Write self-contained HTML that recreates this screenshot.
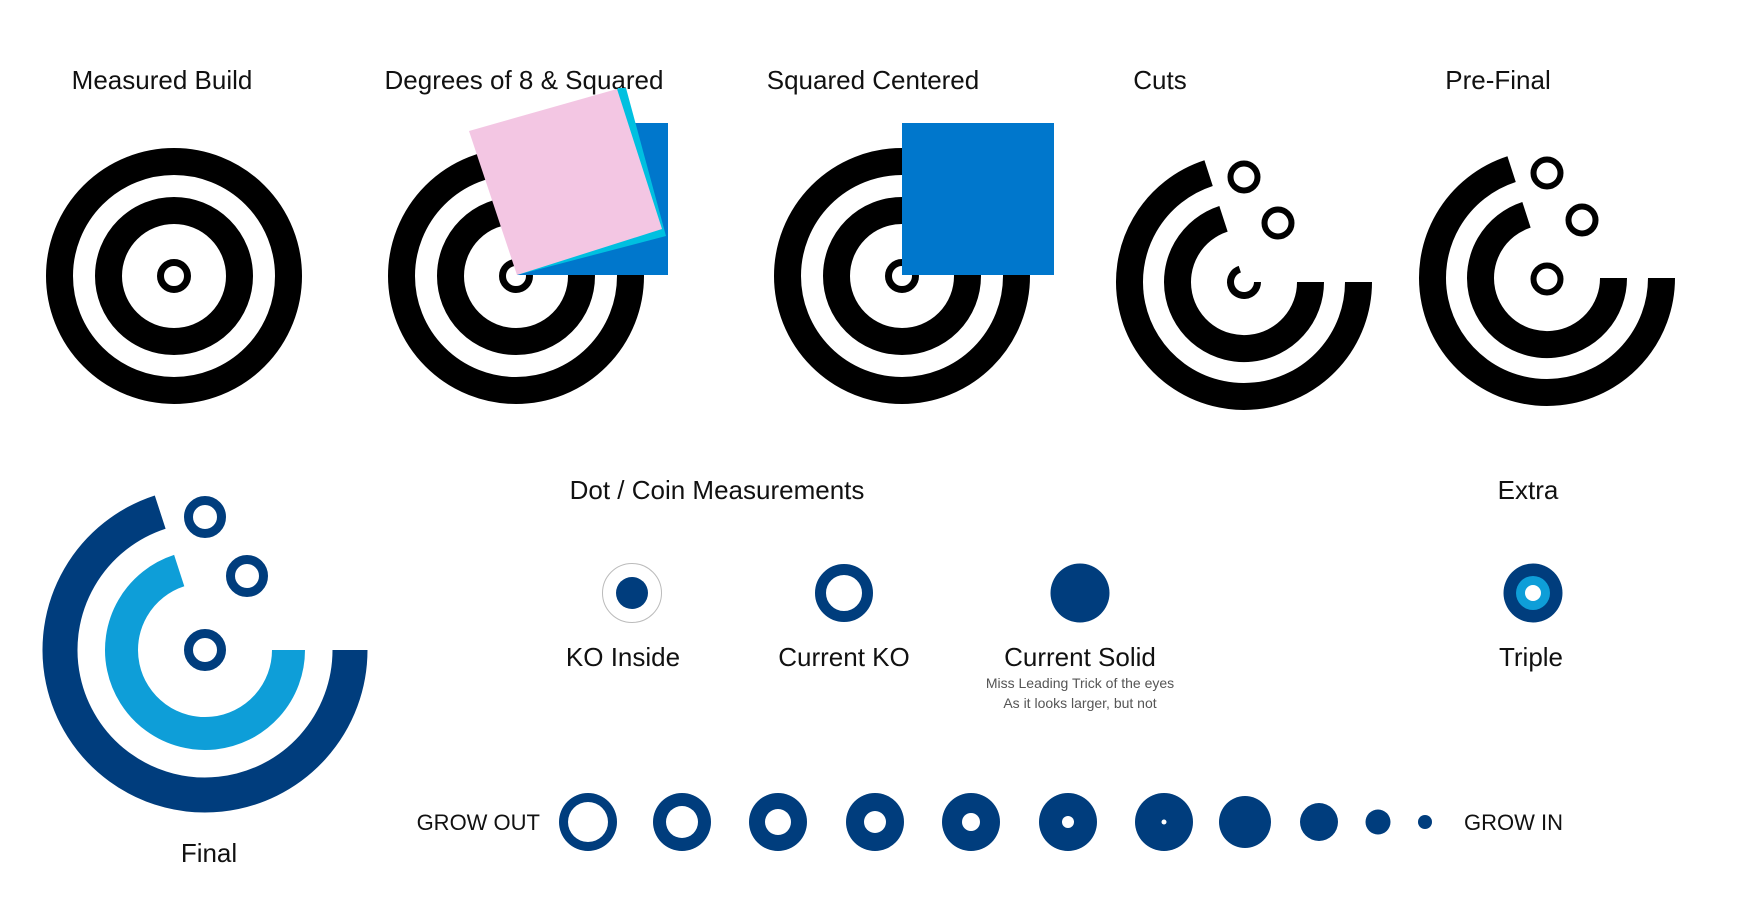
<!DOCTYPE html>
<html><head><meta charset="utf-8"><style>
html,body{margin:0;padding:0;background:#fff;}
svg{display:block;}
text{font-family:"Liberation Sans",sans-serif;fill:#111;}
</style></head><body>
<svg width="1750" height="900" viewBox="0 0 1750 900" xmlns="http://www.w3.org/2000/svg">
<g font-size="26" text-anchor="middle">
<text x="162" y="89">Measured Build</text>
<text x="524" y="89">Degrees of 8 &amp; Squared</text>
<text x="873" y="89">Squared Centered</text>
<text x="1160" y="89">Cuts</text>
<text x="1498" y="89">Pre-Final</text>
</g>
<!-- Measured build -->
<g fill="none" stroke="#000">
<circle cx="174" cy="276" r="114.5" stroke-width="27"/>
<circle cx="174" cy="276" r="65.5" stroke-width="27"/>
<circle cx="174" cy="276" r="13.5" stroke-width="7"/>
</g>
<!-- Degrees -->
<g fill="none" stroke="#000">
<circle cx="516" cy="276" r="114.5" stroke-width="27"/>
<circle cx="516" cy="276" r="65.5" stroke-width="27"/>
<circle cx="516" cy="276" r="13.5" stroke-width="7"/>
</g>
<rect x="517" y="123" width="151" height="152" fill="#0077cc"/>
<polygon points="517,275 618,88 626,88 666,236" fill="#00c0e0"/>
<polygon points="469,131 617,89 662,229 517,275" fill="#f3c6e3"/>
<!-- Squared centered -->
<g fill="none" stroke="#000">
<circle cx="902" cy="276" r="114.5" stroke-width="27"/>
<circle cx="902" cy="276" r="65.5" stroke-width="27"/>
<circle cx="902" cy="276" r="13.5" stroke-width="7"/>
</g>
<rect x="902" y="123" width="152" height="152" fill="#0077cc"/>
<!-- Cuts -->
<g fill="none" stroke="#000">
<path d="M1358.5,282 A114.5,114.5 0 1 1 1208.6,173.1" stroke-width="27"/>
<path d="M1310.5,282 A66.5,66.5 0 1 1 1223.5,218.8" stroke-width="27"/>
<path d="M1257.5,282 A13.5,13.5 0 1 1 1239.8,269.2" stroke-width="7"/>
<circle cx="1244" cy="177" r="13.5" stroke-width="6"/>
<circle cx="1278" cy="223" r="13.5" stroke-width="6"/>
</g>
<!-- Pre-final -->
<g fill="none" stroke="#000">
<path d="M1661.5,278 A114.5,114.5 0 1 1 1511.6,169.1" stroke-width="27"/>
<path d="M1613.5,278 A66.5,66.5 0 1 1 1526.5,214.8" stroke-width="27"/>
<circle cx="1547" cy="173" r="13.5" stroke-width="6"/>
<circle cx="1582" cy="220" r="13.5" stroke-width="6"/>
<circle cx="1547" cy="279" r="13.5" stroke-width="6"/>
</g>
<!-- Final -->
<g fill="none">
<path d="M350,650 A145,145 0 1 1 160.2,512.1" stroke="#003d7d" stroke-width="35"/>
<path d="M288.5,650 A83.5,83.5 0 1 1 179.2,570.6" stroke="#0e9ed8" stroke-width="33"/>
<g stroke="#003d7d" stroke-width="9">
<circle cx="205" cy="517" r="16.5"/>
<circle cx="247" cy="576" r="16.5"/>
<circle cx="205" cy="650" r="16.5"/>
</g>
</g>
<text x="209" y="862" font-size="26" text-anchor="middle">Final</text>
<!-- Dot / coin -->
<g font-size="26" text-anchor="middle">
<text x="717" y="499">Dot / Coin Measurements</text>
<text x="1528" y="499">Extra</text>
<text x="623" y="666">KO Inside</text>
<text x="844" y="666">Current KO</text>
<text x="1080" y="666">Current Solid</text>
<text x="1531" y="666">Triple</text>
</g>
<g font-size="14" text-anchor="middle">
<text x="1080" y="688" style="fill:#555">Miss Leading Trick of the eyes</text>
<text x="1080" y="708" style="fill:#555">As it looks larger, but not</text>
</g>
<circle cx="632" cy="593" r="29.5" fill="none" stroke="#bbb" stroke-width="1"/>
<circle cx="632" cy="593" r="16" fill="#003d7d"/>
<circle cx="844" cy="593" r="23.5" fill="none" stroke="#003d7d" stroke-width="11"/>
<circle cx="1080" cy="593" r="29.5" fill="#003d7d"/>
<circle cx="1533" cy="593" r="29.5" fill="#003d7d"/>
<circle cx="1533" cy="593" r="17" fill="#0e9ed8"/>
<circle cx="1533" cy="593" r="8" fill="#fff"/>
<!-- Grow row -->
<text x="540" y="830" font-size="22" text-anchor="end">GROW OUT</text>
<text x="1464" y="830" font-size="22">GROW IN</text>
<g fill="#003d7d">
<circle cx="588" cy="822" r="29"/><circle cx="588" cy="822" r="20" fill="#fff"/>
<circle cx="682" cy="822" r="29"/><circle cx="682" cy="822" r="16" fill="#fff"/>
<circle cx="778" cy="822" r="29"/><circle cx="778" cy="822" r="13" fill="#fff"/>
<circle cx="875" cy="822" r="29"/><circle cx="875" cy="822" r="11" fill="#fff"/>
<circle cx="971" cy="822" r="29"/><circle cx="971" cy="822" r="9" fill="#fff"/>
<circle cx="1068" cy="822" r="29"/><circle cx="1068" cy="822" r="6" fill="#fff"/>
<circle cx="1164" cy="822" r="29"/><circle cx="1164" cy="822" r="2.5" fill="#fff"/>
<circle cx="1245" cy="822" r="26"/>
<circle cx="1319" cy="822" r="19"/>
<circle cx="1378" cy="822" r="12.5"/>
<circle cx="1425" cy="822" r="7"/>
</g>
</svg>
</body></html>
